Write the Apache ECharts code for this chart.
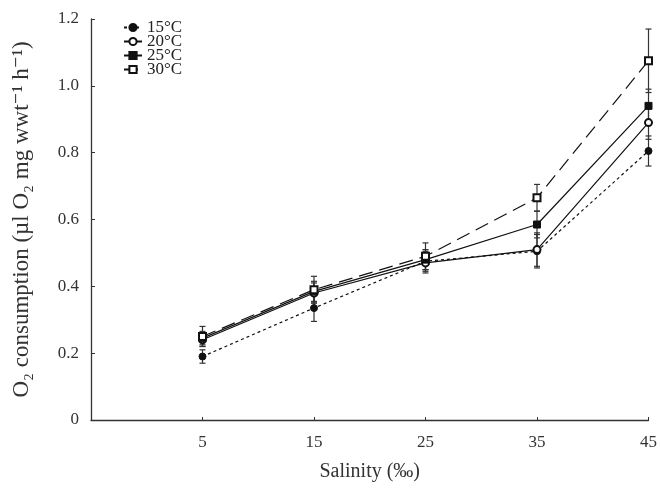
<!DOCTYPE html>
<html>
<head>
<meta charset="utf-8">
<script src="https://cdn.jsdelivr.net/npm/echarts@6/dist/echarts.min.js"></script>
<style>
  html, body { margin: 0; padding: 0; background: #fff; }
  #chart { width: 660px; height: 488px; }
</style>
</head>
<body>
<div id="chart"></div>
<script>
const salinity = [5, 15, 25, 35, 45];
const seriesNames = ['15°C', '20°C', '25°C', '30°C'];
const mean15 = [0.19, 0.335, 0.475, 0.505, 0.805];
const err15 = [0.02, 0.04, 0.03, 0.05, 0.045];
const mean20 = [0.24, 0.38, 0.47, 0.51, 0.89];
const err20 = [0.02, 0.03, 0.03, 0.05, 0.05];
const mean25 = [0.245, 0.385, 0.48, 0.585, 0.94];
const err25 = [0.02, 0.03, 0.03, 0.04, 0.05];
const mean30 = [0.25, 0.39, 0.49, 0.665, 1.075];
const err30 = [0.03, 0.04, 0.04, 0.04, 0.095];

const chart = echarts.init(document.getElementById('chart'));
const serif = '"Liberation Serif", "DejaVu Serif", serif';

// style of each temperature line: marker + dash
const styles = [
    {symbol: 'circle', type: [3, 3]},
    {symbol: 'emptyCircle', type: 'solid'},
    {symbol: 'rect', type: 'solid'},
    {symbol: 'emptyRect', type: [14, 7]}
];
const means = [mean15, mean20, mean25, mean30];
const errs = [err15, err20, err25, err30];

let series = [];
means.forEach(function (m, i) {
    series.push({
        name: seriesNames[i],
        type: 'line',
        data: salinity.map((x, j) => [x, m[j]]),
        symbol: styles[i].symbol,
        symbolSize: 7,
        z: 3,
        lineStyle: {color: '#111', width: 1.2, type: styles[i].type},
        itemStyle: {color: '#111', borderColor: '#111', borderWidth: 1}
    });
    // error bars
    series.push({
        name: seriesNames[i],
        type: 'custom',
        z: 2,
        data: salinity.map((x, j) => [x, m[j] - errs[i][j], m[j] + errs[i][j]]),
        renderItem: function (params, api) {
            const lo = api.coord([api.value(0), api.value(1)]);
            const hi = api.coord([api.value(0), api.value(2)]);
            const w = 3;
            const st = {stroke: '#333', lineWidth: 1.2};
            return {
                type: 'group',
                children: [
                    {type: 'line', shape: {x1: lo[0], y1: lo[1], x2: hi[0], y2: hi[1]}, style: st},
                    {type: 'line', shape: {x1: lo[0] - w, y1: lo[1], x2: lo[0] + w, y2: lo[1]}, style: st},
                    {type: 'line', shape: {x1: hi[0] - w, y1: hi[1], x2: hi[0] + w, y2: hi[1]}, style: st}
                ]
            };
        }
    });
});

chart.setOption({
    animation: false,
    grid: {left: 91, right: 11, top: 19, bottom: 68},
    legend: {
        data: seriesNames,
        orient: 'vertical',
        left: 118,
        top: 14,
        itemGap: -3,
        itemWidth: 18,
        itemHeight: 9,
        textStyle: {fontFamily: serif, fontSize: 17, color: '#222'}
    },
    xAxis: {
        type: 'value',
        min: -5,
        max: 45,
        name: 'Salinity (‰)',
        nameLocation: 'middle',
        nameGap: 42,
        nameTextStyle: {fontFamily: serif, fontSize: 20, color: '#333'},
        axisLine: {lineStyle: {color: '#333', width: 1.3}},
        axisTick: {inside: true, length: 3, customValues: salinity, lineStyle: {color: '#333'}},
        axisLabel: {customValues: salinity, fontFamily: serif, fontSize: 17, color: '#333', margin: 14},
        splitLine: {show: false}
    },
    yAxis: {
        type: 'value',
        min: 0,
        max: 1.2,
        interval: 0.2,
        name: 'O₂ consumption (µl O₂ mg wwt⁻¹ h⁻¹)',
        nameLocation: 'middle',
        nameGap: 58,
        nameTextStyle: {fontFamily: serif, fontSize: 23, color: '#333'},
        axisLine: {show: true, onZero: false, lineStyle: {color: '#333', width: 1.3}},
        axisTick: {show: true, inside: true, length: 4, lineStyle: {color: '#333'}},
        axisLabel: {
            fontFamily: serif, fontSize: 17, color: '#333', margin: 12,
            formatter: v => v === 0 ? '0' : v.toFixed(1)
        },
        splitLine: {show: false}
    },
    series: series
});
</script>
</body>
</html>
